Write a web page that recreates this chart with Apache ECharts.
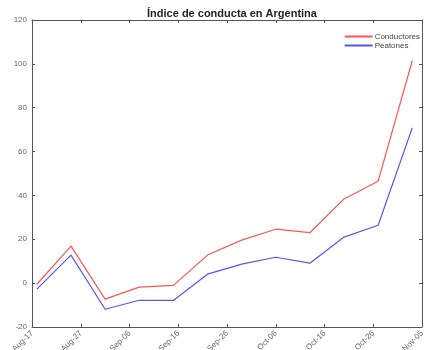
<!DOCTYPE html>
<html>
<head>
<meta charset="utf-8">
<script src="https://cdn.jsdelivr.net/npm/echarts@6/dist/echarts.min.js"></script>
<style>
html,body{margin:0;padding:0;background:#fff;}
#chart{width:428px;height:350px;}
</style>
</head>
<body>
<div id="chart"></div>
<script>
// Days since Aug-17 of each weekly observation
var days = [1, 8, 15, 22, 29, 36, 43, 50, 57, 64, 71, 78];
var conductores = [-0.5, 16.9, -7.3, -1.8, -1.0, 12.8, 19.6, 24.6, 23.0, 38.4, 46.5, 101.4];
var peatones = [-2.7, 12.8, -11.9, -7.8, -7.9, 4.1, 8.7, 11.8, 9.1, 21.0, 26.4, 70.8];
// Date labels, one every 10 days starting Aug-17
var tickLabels = ['Aug-17', 'Aug-27', 'Sep-06', 'Sep-16', 'Sep-26', 'Oct-06', 'Oct-16', 'Oct-26', 'Nov-05'];

function pairs(xs, ys) { return xs.map(function (x, i) { return [x, ys[i]]; }); }

var axisColor = '#555';
var labelColor = '#666';
function frameAxis(extra) {
  var base = {
    type: 'value',
    axisLine: { show: true, onZero: false, lineStyle: { color: axisColor, width: 1 } },
    axisTick: { show: true, inside: true, length: 3, lineStyle: { color: axisColor } },
    splitLine: { show: false }
  };
  return Object.assign(base, extra);
}
var chart = echarts.init(document.getElementById('chart'));
chart.setOption({
  animation: false,
  backgroundColor: '#fff',
  title: {
    text: 'Índice de conducta en Argentina',
    left: 227, top: 3, textAlign: 'center',
    textStyle: { fontFamily: 'Liberation Sans', fontSize: 11, fontWeight: 'bold', color: '#222' }
  },
  legend: {
    right: 3, top: 27, orient: 'vertical', itemGap: 0,
    itemWidth: 28, itemHeight: 2, icon: 'rect',
    textStyle: { fontFamily: 'Liberation Sans', fontSize: 8, lineHeight: 9, color: '#444', padding: [0, 0, 0, -3] },
    data: ['Conductores', 'Peatones']
  },
  grid: { left: 32, right: 6, top: 20, bottom: 23, show: false, containLabel: false, outerBoundsMode: 'none' },
  xAxis: [
    frameAxis({ min: 0, max: 80, interval: 10,
      axisLabel: { rotate: 45, fontFamily: 'Liberation Sans', fontSize: 8, color: labelColor, margin: 5,
        formatter: function (v) { return tickLabels[Math.round(v / 10)]; } } }),
    frameAxis({ position: 'top', min: 0, max: 80, interval: 10, axisLabel: { show: false } })
  ],
  yAxis: [
    frameAxis({ min: -20, max: 120, interval: 20,
      axisLabel: { fontFamily: 'Liberation Sans', fontSize: 8, color: labelColor, margin: 5 } }),
    frameAxis({ position: 'right', min: -20, max: 120, interval: 20, axisLabel: { show: false } })
  ],
  series: [{
    name: 'Conductores', type: 'line', data: pairs(days, conductores),
    showSymbol: false, symbol: 'none',
    itemStyle: { color: '#ff5555' },
    lineStyle: { color: '#ff5555', width: 1.2 }
  }, {
    name: 'Peatones', type: 'line', data: pairs(days, peatones),
    showSymbol: false, symbol: 'none',
    itemStyle: { color: '#5555ff' },
    lineStyle: { color: '#5555ff', width: 1.2 }
  }]
});
</script>
</body>
</html>
